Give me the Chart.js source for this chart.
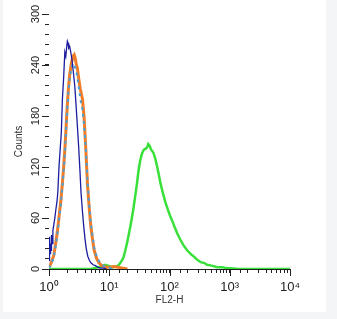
<!DOCTYPE html>
<html><head><meta charset="utf-8">
<script src="https://cdn.jsdelivr.net/npm/chart.js@4/dist/chart.umd.min.js"></script>
<style>
html,body{margin:0;padding:0;background:#f3f5f7;width:337px;height:319px;overflow:hidden}
#panel{position:absolute;left:3px;top:0;width:323px;height:312px;background:#fff}
#c{position:absolute;left:0;top:0}
</style></head><body><div id="panel"></div><canvas id="c" width="337" height="319"></canvas>
<script>
const xTickLabels = {1:'10\u2070', 10:'10\u00B9', 100:'10\u00B2', 1000:'10\u00B3', 10000:'10\u2074'};
const yLabelEvery = 60;

const navyX = [1.0,1.02,1.04,1.06,1.08,1.1,1.13,1.16,1.2,1.25,1.3,1.35,1.4,1.47,1.53,1.6,1.67,1.75,1.83,1.9,1.97,2.02,2.07,2.12,2.2,2.3,2.42,2.55,2.68,2.8,2.96,3.1,3.25,3.4,3.57,3.75,3.95,4.15,4.4,4.7,5.0,5.4,5.9,6.5,7.2,8.0,9.0];
const navyY = [10,38,18,30,22,40,30,45,52,60,70,78,90,122,140,160,200,225,255,250,262,268,266,260,262,255,245,230,215,195,168,145,118,90,70,52,36,24,15,10,7,5,4,2,1,1,0];

const lightX = [1.0,1.05,1.1,1.15,1.2,1.29,1.38,1.47,1.57,1.67,1.75,1.83,1.9,2.0,2.1,2.2,2.35,2.5,2.62,2.75,2.88,3.0,3.15,3.35,3.59,3.83,4.09,4.35,4.65,4.95,5.3,5.62,6.2,6.8,7.5,8.3,9.2,10.5,12];
const lightY = [1,4,7,10,14,27,42,58,76,97,116,134,158,186,208,224,236,242,240,236,230,222,212,198,188,168,142,104,75,54,38,25,14,9,5,3,2,1,0];

const orangeX = [1.0,1.05,1.1,1.15,1.2,1.29,1.38,1.47,1.57,1.67,1.75,1.83,1.9,2.0,2.1,2.2,2.35,2.5,2.62,2.72,2.85,2.96,3.1,3.3,3.59,3.83,4.09,4.35,4.65,4.95,5.3,5.62,6.2,6.8,7.5,8.3,9.2,10.5,12,14,17,20];
const orangeY = [2,5,8,12,16,30,45,62,80,101,120,140,160,190,212,228,242,250,252,248,240,236,225,212,200,178,140,100,72,50,34,22,12,7,4,3,2,2,3,2,1,0];

const greenX = [1,3,5,6.5,7.5,8.5,9.5,10.4,11.5,12.5,13.4,14.5,15.5,16.5,17.3,18.5,19.8,21,22.4,24,25.4,27,28.9,30.5,32.7,35,37.2,39,41.1,43,44.5,46.9,49,51.5,54.6,58,62.6,66,70.8,76,80,85.8,92,97,103,112,122,134,150,170,196,230,260,286,330,380,420,500,620,750,900,1050,1400,2000,10000];
const greenY = [0,0,0,2,3,5,4,3,2,3,3,5,8,11,14,22,31,40,50,62,73,86,101,115,128,136,140,141,142,144,147,145,141,139,136,130,120,112,101,92,86,78,72,67,62,56,49,42,35,28,22,17,14,11,8,7,5,4,2,2,1,1,0,0,0];

const pts = (xs, ys) => xs.map((x, i) => ({x: x, y: ys[i]}));
const FONT = 'Liberation Sans, Arial, sans-serif';

// longer tick marks at labelled (major) ticks, positioned through the scales
const majorTicks = {
  id: 'majorTicks',
  afterDraw(chart) {
    const ctx = chart.ctx;
    const xs = chart.scales.x, ys = chart.scales.y;
    ctx.save();
    ctx.strokeStyle = '#222';
    ctx.lineWidth = 1;
    ctx.beginPath();
    xs.ticks.forEach(t => {
      if (xTickLabels[t.value]) {
        const px = Math.round(xs.getPixelForValue(t.value)) + 0.5;
        ctx.moveTo(px, xs.top);
        ctx.lineTo(px, xs.top + 7);
      }
    });
    ys.ticks.forEach(t => {
      if (t.value % yLabelEvery === 0) {
        const py = Math.round(ys.getPixelForValue(t.value)) + 0.5;
        ctx.moveTo(ys.right, py);
        ctx.lineTo(ys.right - 7, py);
      }
    });
    ctx.stroke();
    ctx.restore();
  }
};

new Chart(document.getElementById('c'), {
  type: 'line',
  data: {
    datasets: [
      {data: pts(navyX, navyY), borderColor: '#1c1c9e', borderWidth: 1.3},
      {data: pts(lightX, lightY), borderColor: '#4a9fd4', borderWidth: 2, borderDash: [3, 4]},
      {data: pts(orangeX, orangeY), borderColor: '#f07c28', borderWidth: 3},
      {data: pts(greenX, greenY), borderColor: '#3ae03a', borderWidth: 2.5}
    ]
  },
  plugins: [majorTicks],
  options: {
    responsive: false,
    animation: false,
    layout: {padding: {left: 0, right: 47, top: 14, bottom: 0}},
    plugins: {legend: {display: false}, tooltip: {enabled: false}},
    elements: {point: {radius: 0}, line: {tension: 0, fill: false}},
    scales: {
      x: {
        type: 'logarithmic', min: 1, max: 10000,
        border: {display: true, color: '#222', width: 1},
        grid: {drawOnChartArea: false, drawTicks: true, tickLength: 4, color: '#222'},
        ticks: {
          autoSkip: false, maxRotation: 0, minRotation: 0, padding: 7, color: '#222',
          font: {family: FONT, size: 13},
          callback: (v) => xTickLabels[v] || ''
        },
        title: {display: true, text: 'FL2-H', color: '#333', font: {family: FONT, size: 10}, padding: {top: 0, bottom: 13}},
        afterFit: (s) => { s.height = 50; }
      },
      y: {
        min: 0, max: 300,
        border: {display: false},
        grid: {drawOnChartArea: false, drawTicks: true, tickLength: 4, color: '#222'},
        ticks: {
          stepSize: 12, autoSkip: false, minRotation: 90, maxRotation: 90, crossAlign: 'center', padding: 0,
          color: '#222', font: {family: FONT, size: 11},
          callback: (v) => (v % yLabelEvery === 0 ? String(v) : '')
        },
        title: {display: true, text: 'Counts', color: '#333', font: {family: FONT, size: 10}, padding: {top: 13, bottom: 0}},
        afterFit: (s) => { s.width = 49; }
      }
    }
  }
});
</script>
</body></html>
